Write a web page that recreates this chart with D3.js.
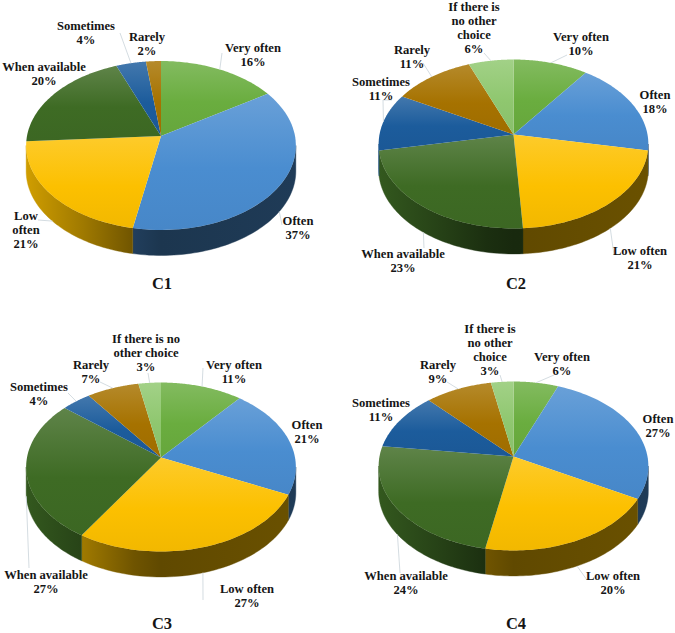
<!DOCTYPE html>
<html>
<head>
<meta charset="utf-8">
<script src="https://cdn.jsdelivr.net/npm/d3@7"></script>
<style>
  html, body { margin: 0; padding: 0; background: #fff; }
  svg { display: block; }
  text { font-family: "Liberation Serif", serif; font-weight: bold; fill: #151515; }
</style>
</head>
<body>
<svg id="chart" width="675" height="633"></svg>
<script>
const categories = ["Very often", "Often", "Low often", "When available", "Sometimes", "Rarely", "If there is no other choice"];
const baseColors = ["#6aad3f", "#4a8dd0", "#fcc000", "#3e6b24", "#1c5c9c", "#a67200", "#8fc76f"];

const c1Values = [16, 37, 21, 20, 4, 2, 0];
const c2Values = [10, 18, 21, 23, 11, 11, 6];
const c3Values = [11, 21, 27, 27, 4, 7, 3];
const c4Values = [6, 27, 20, 24, 11, 9, 3];

// how each label wraps in the picture
const c1Lines = [["Very often"], ["Often"], ["Low", "often"], ["When available"], ["Sometimes"], ["Rarely"], []];
const c2Lines = [["Very often"], ["Often"], ["Low often"], ["When available"], ["Sometimes"], ["Rarely"], ["If there is", "no other", "choice"]];
const c3Lines = [["Very often"], ["Often"], ["Low often"], ["When available"], ["Sometimes"], ["Rarely"], ["If there is no", "other choice"]];
const c4Lines = [["Very often"], ["Often"], ["Low often"], ["When available"], ["Sometimes"], ["Rarely"], ["If there is", "no other", "choice"]];

// layout only: label centre x, first line centre y, then leader line points after the rim
const c1Labels = [
  [253, 48, [[222, 53]]], [298, 221, [[282, 225]]], [26, 216, [[38, 220]]],
  [44, 67, []], [86, 26, [[120, 33]]], [147, 37, []], null
];
const c2Labels = [
  [581, 37, [[567, 55]]], [655, 95, []], [640, 251, [[614, 255]]],
  [403, 254, [[424, 248]]], [381, 82, [[383, 100], [392, 100]]], [412, 50, [[423, 63]]], [474, 7, [[484, 53]]]
];
const c3Labels = [
  [234, 365, [[203, 368]]], [307, 425, []], [247, 589, [[203, 600]]],
  [46, 575, [[29, 568]]], [39, 387, [[68, 393]]], [91, 365, [[100, 382]]], [146, 339, [[148, 373]]]
];
const c4Labels = [
  [562, 357, [[554, 375]]], [658, 419, []], [613, 576, [[587, 580]]],
  [406, 576, [[400, 573]]], [381, 403, [[400, 420]]], [438, 365, [[447, 382]]], [490, 329, [[500, 375]]]
];

const panels = [
  { id: "c1", title: "C1", titleX: 162, titleY: 288.5, cx: 161, cy: 136, values: c1Values, lines: c1Lines, labels: c1Labels },
  { id: "c2", title: "C2", titleX: 516, titleY: 288.5, cx: 513.5, cy: 134.5, values: c2Values, lines: c2Lines, labels: c2Labels },
  { id: "c3", title: "C3", titleX: 162, titleY: 629, cx: 161, cy: 457.5, values: c3Values, lines: c3Lines, labels: c3Labels },
  { id: "c4", title: "C4", titleX: 516, titleY: 629, cx: 513.5, cy: 456.5, values: c4Values, lines: c4Lines, labels: c4Labels }
];

// -------- tilted disc: perspective projection of a circle --------
const radiusX = 134;
const radiusY = 83.4;
const tilt = 0.1124;
const depth = 25.5;
const lineHeight = 13.8;

const project = (panel, angle) => {
  const u = Math.sin(angle);
  const v = -Math.cos(angle);
  const w = 1 - tilt * v;
  return [panel.cx + (radiusX * u) / w, panel.cy + (radiusY * v) / w];
};

// the wall shows between the two widest points of the rim
const frontStart = Math.acos(-tilt);
const frontEnd = 2 * Math.PI - frontStart;

const color = d3.scaleOrdinal().domain(categories).range(baseColors);
const pieGen = d3.pie().value((d) => d.value).sort(null);
const line = d3.line();

const arcPoints = (panel, a0, a1) =>
  d3.range(0, 61).map((i) => project(panel, a0 + ((a1 - a0) * i) / 60));

const svg = d3.select("#chart");
const defs = svg.append("defs");

// top faces: lighter at the far edge, base colour towards the front
categories.forEach((c, i) => {
  const g = defs.append("linearGradient")
    .attr("id", `top-${i}`)
    .attr("x1", 0).attr("y1", 0).attr("x2", 0).attr("y2", 1);
  g.append("stop").attr("offset", "0%").attr("stop-color", d3.interpolateRgb(color(c), "#fff")(0.17));
  g.append("stop").attr("offset", "55%").attr("stop-color", color(c));
  g.append("stop").attr("offset", "100%").attr("stop-color", d3.interpolateRgb(color(c), "#000")(0.04));
});

const wallShade = [[0, 0.82], [0.21, 0.63], [0.4, 0.44], [0.5, 0.38], [1, 0.42]];

panels.forEach((panel) => {
  const g = svg.append("g").attr("class", panel.id);
  const rows = categories.map((c, i) => ({ category: c, index: i, value: panel.values[i] }));
  const slices = pieGen(rows);

  // side wall
  slices.forEach((s) => {
    const a0 = Math.max(s.startAngle, frontStart);
    const a1 = Math.min(s.endAngle, frontEnd);
    if (a1 <= a0) return;
    const gradId = `wall-${panel.id}-${s.data.index}`;
    const grad = defs.append("linearGradient")
      .attr("id", gradId)
      .attr("gradientUnits", "userSpaceOnUse")
      .attr("x1", panel.cx - radiusX).attr("y1", 0)
      .attr("x2", panel.cx + radiusX).attr("y2", 0);
    wallShade.forEach(([o, f]) => {
      grad.append("stop")
        .attr("offset", o)
        .attr("stop-color", d3.interpolateRgb("#000", color(s.data.category))(f));
    });
    const rim = arcPoints(panel, a0, a1);
    const lower = rim.map(([x, y]) => [x, y + depth]).reverse();
    g.append("path")
      .attr("d", line(rim.concat(lower)) + "Z")
      .attr("fill", `url(#${gradId})`)
      .attr("stroke", `url(#${gradId})`)
      .attr("stroke-width", 0.4);
  });

  // top faces
  slices.forEach((s) => {
    if (s.data.value === 0) return;
    const pts = [[panel.cx, panel.cy]].concat(arcPoints(panel, s.startAngle, s.endAngle));
    g.append("path")
      .attr("d", line(pts) + "Z")
      .attr("fill", `url(#top-${s.data.index})`);
  });

  // leader lines start on the rim at the middle of the slice
  slices.forEach((s) => {
    const label = panel.labels[s.data.index];
    if (!label || !label[2].length) return;
    const mid = (s.startAngle + s.endAngle) / 2;
    const start = project(panel, mid);
    if (mid > frontStart && mid < frontEnd) start[1] += depth;
    g.append("path")
      .attr("d", line([start].concat(label[2])))
      .attr("fill", "none")
      .attr("stroke", "#cfd8de")
      .attr("stroke-width", 0.9);
  });

  // labels
  slices.forEach((s) => {
    const label = panel.labels[s.data.index];
    if (!label) return;
    const textLines = panel.lines[s.data.index].concat(`${s.data.value}%`);
    const t = g.append("text")
      .attr("text-anchor", "middle")
      .attr("font-size", 12.6);
    textLines.forEach((txt, j) => {
      t.append("tspan")
        .attr("x", label[0])
        .attr("y", label[1] + 4.3 + j * lineHeight)
        .text(txt);
    });
  });

  g.append("text")
    .attr("x", panel.titleX)
    .attr("y", panel.titleY)
    .attr("text-anchor", "middle")
    .attr("font-size", 16.5)
    .text(panel.title);
});
</script>
</body>
</html>
